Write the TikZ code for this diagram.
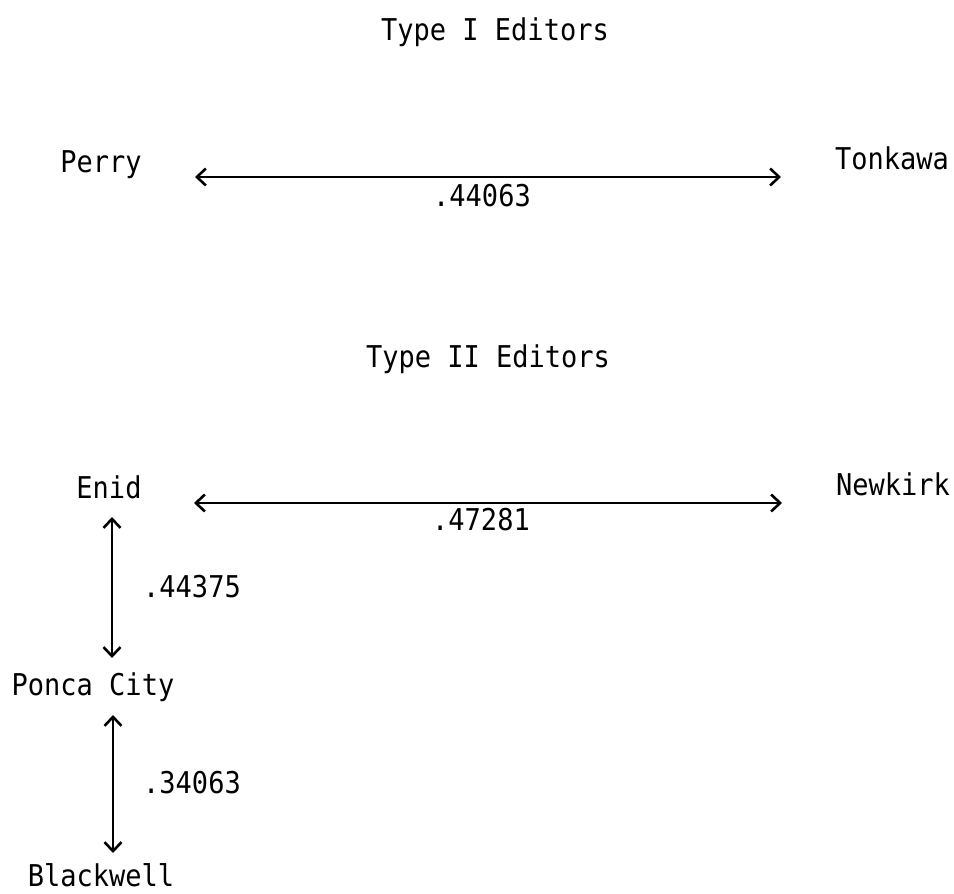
\documentclass[tikz,border=0pt]{standalone}
\usepackage{fontspec}
\usetikzlibrary{arrows.meta}
\newfontfamily\typewriter[FakeStretch=0.9]{DejaVu Sans Mono}
\tikzset{
  label/.style={font=\typewriter\fontsize{30}{30}\selectfont, anchor=base, inner sep=0pt},
  barb/.tip={Straight Barb[length=9pt,width=17pt,line width=2.6pt]},
  link/.style={line width=2.4pt, {barb}-{barb}}
}
\begin{document}
\begin{tikzpicture}[x=1pt,y=-1pt]
  \useasboundingbox (0,0) rectangle (954,894);

  % Type I editors
  \node[label] (typeone) at (495,40) {Type I Editors};
  \node[label] (perry)   at (101,172) {Perry};
  \node[label] (tonkawa) at (892,169) {Tonkawa};
  \coordinate (perryend)   at (195,177);
  \coordinate (tonkawaend) at (781,177);
  \draw[link] (perryend) -- (tonkawaend);
  \node[label] (rone) at (482,206) {.44063};

  % Type II editors
  \node[label] (typetwo) at (488,367) {Type II Editors};
  \node[label] (enid)    at (109,498) {Enid};
  \node[label] (newkirk) at (893,495) {Newkirk};
  \coordinate (enidend)    at (194,503);
  \coordinate (newkirkend) at (782,503);
  \draw[link] (enidend) -- (newkirkend);
  \node[label] (rtwo) at (481,530) {.47281};

  \node[label] (ponca)     at (93,695)  {Ponca City};
  \node[label] (blackwell) at (101,886) {Blackwell};
  \coordinate (enidfoot)   at (112,517);
  \coordinate (poncatop)   at (112,658);
  \coordinate (poncafoot)  at (113,715);
  \coordinate (blackwelltop) at (113,853);
  \draw[link] (enidfoot) -- (poncatop);
  \draw[link] (poncafoot) -- (blackwelltop);
  \node[label] (rthree) at (192,597) {.44375};
  \node[label] (rfour)  at (192,793) {.34063};
\end{tikzpicture}
\end{document}
